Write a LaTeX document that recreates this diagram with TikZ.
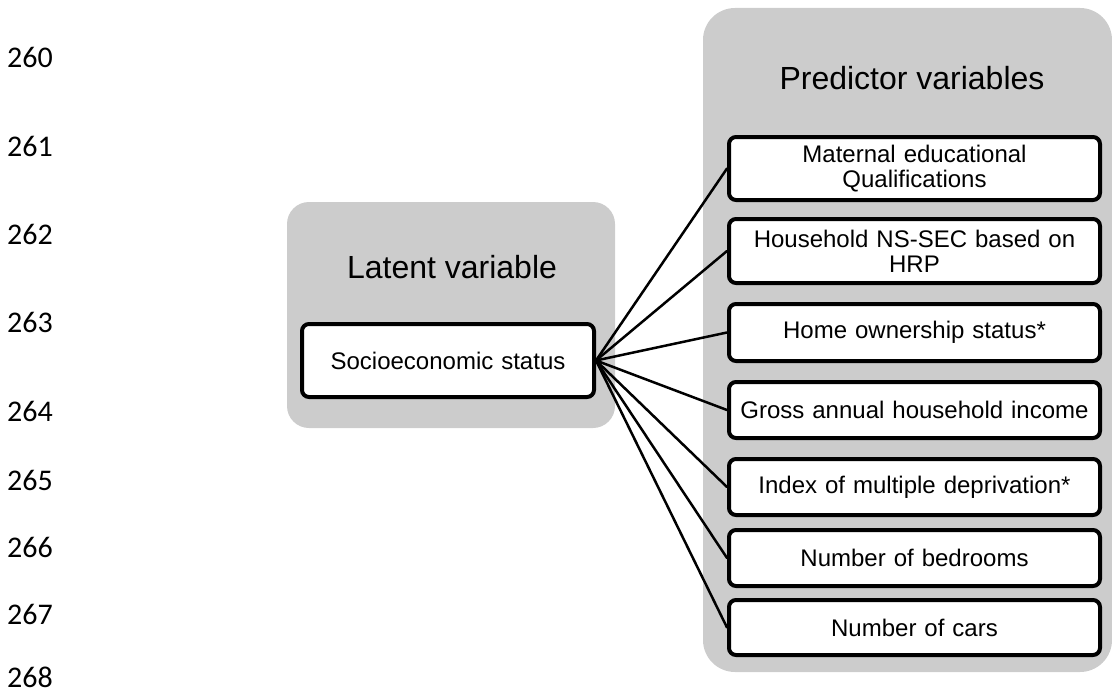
\documentclass[tikz,border=0pt]{standalone}
\usepackage{fontspec}
\setmainfont{Liberation Sans}
\newfontfamily\numfont{Carlito}
\begin{document}
\begin{tikzpicture}[x=1pt,y=-1pt,
  group/.style={fill=black!20, draw=none, rounded corners=#1},
  varbox/.style={draw=black, line width=4pt, fill=white, rounded corners=7pt,
    inner sep=0pt, align=center, text width=360pt,
    font=\fontsize{24}{25}\selectfont},
  title/.style={anchor=base, inner sep=0pt, font=\fontsize{32}{36}\selectfont},
  lnum/.style={anchor=base east, inner sep=0pt, font=\numfont\fontsize{30}{32}\selectfont},
  link/.style={line width=2.5pt, line cap=round}]
\useasboundingbox (0,0) rectangle (1112,693);
% line numbers
\foreach \n/\y in {260/67,261/157,262/244,263/332,264/421,265/490,266/557,267/624,268/687}
  \node[lnum] (ln\n) at (53,\y) {\n};
% groups
\fill[group=22pt] (287,202) rectangle (615,428);
\fill[group=32pt] (703,8) rectangle (1112,672);
\node[title] (tlat) at (452,278) {Latent variable};
\node[title] (tpred) at (912,90) {Predictor variables};
% latent
\node[varbox, text width=280pt, minimum width=292pt, minimum height=73pt] (ses) at (448,360.5) {Socioeconomic status};
% predictors
\node[varbox, minimum width=371pt, minimum height=63pt] (p1) at (914.5,168.5) {Maternal educational\\Qualifications};
\node[varbox, minimum width=371pt, minimum height=64pt] (p2) at (914.5,251) {Household NS-SEC based on\\HRP};
\node[varbox, minimum width=371pt, minimum height=57pt] (p3) at (914.5,332.5) {Home ownership status*};
\node[varbox, minimum width=371pt, minimum height=56pt] (p4) at (914.5,410) {Gross annual household income};
\node[varbox, minimum width=371pt, minimum height=56pt] (p5) at (914.5,487) {Index of multiple deprivation*};
\node[varbox, minimum width=371pt, minimum height=56pt] (p6) at (914.5,558) {Number of bedrooms};
\node[varbox, minimum width=371pt, minimum height=55pt] (p7) at (914.5,627.5) {Number of cars};
% links
\foreach \i in {1,...,7}
  \draw[link] (ses.east) -- (p\i.west);
\end{tikzpicture}
\end{document}
